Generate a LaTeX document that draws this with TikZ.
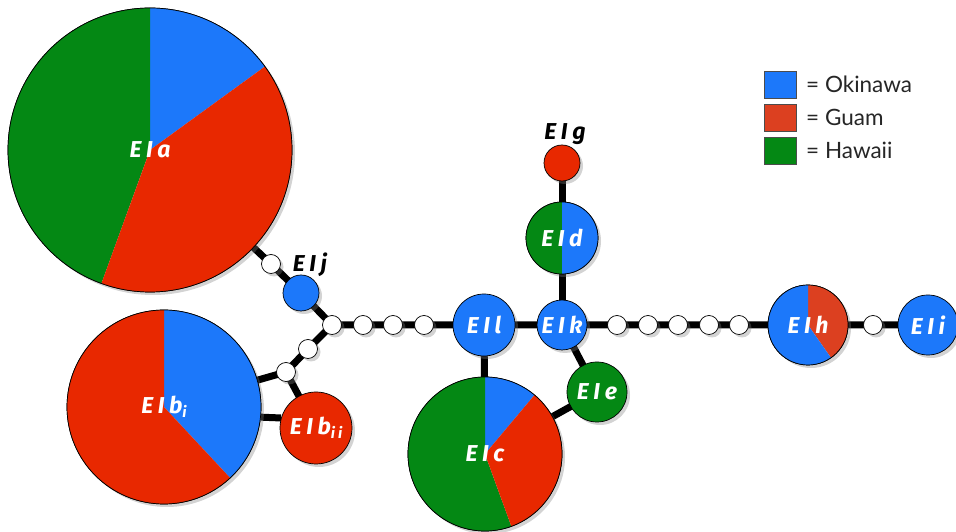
\documentclass[tikz,border=0pt]{standalone}
\usepackage{fontspec}
\setmainfont{Lato}
\newfontfamily\labfont[LetterSpace=20]{Fira Sans}
\usetikzlibrary{shadows,backgrounds}
\definecolor{okb}{RGB}{28,120,250}
\definecolor{gur}{RGB}{232,40,0}
\definecolor{gul}{RGB}{220,64,32}
\definecolor{haw}{RGB}{4,136,20}
\tikzset{
 link/.style={line width=7pt, black},
 hap/.style={circle, draw=black, line width=0.7pt, fill=white, inner sep=0pt,
   drop shadow={shadow xshift=3pt, shadow yshift=-3pt, opacity=0.35}},
 wdot/.style={hap, minimum size=19pt},
 lab/.style={text=white, font=\labfont\fontsize{23}{23}\selectfont\bfseries\itshape, inner sep=0pt},
 blab/.style={lab, text=black},
 key/.style={draw=black!70, line width=0.7pt, minimum width=32pt, minimum height=27pt, inner sep=0pt},
 keytext/.style={anchor=west, font=\fontsize{22.5}{22.5}\selectfont, text=black!85, inner sep=0pt}
}
\newcommand\subl[1]{\raisebox{-0.35ex}{\fontsize{15}{15}\selectfont #1}}
\newcommand\pienode[6]{%
 \node[hap, minimum size={2*#4pt}] (#1) at (#2,#3) {};
 \foreach \a/\b/\c in {#6} {\fill[\c] (#1.center) -- ++(\a:#4) arc[start angle=\a, end angle=\b, radius=#4] -- cycle;}
 \draw[black, line width=0.7pt] (#1.center) circle[radius=#4];
 \node[lab] (#1-t) at (#1.center) {#5};
}
\begin{document}
\begin{tikzpicture}[x=1pt,y=1pt]
\useasboundingbox (0,0) rectangle (956,532);
% pie nodes
\pienode{EIa}{150}{382}{142}{EIa}{36/90/okb, 90/250/haw, -110/36/gur}
\pienode{EIbi}{164}{125}{97}{EIb\subl{i}}{-47/90/okb, 90/313/gur}
\pienode{EIc}{485}{78}{77}{EIc}{50/90/okb, 90/290/haw, -70/50/gur}
\pienode{EIh}{808}{207}{40}{EIh}{-55/90/gul, 90/305/okb}
\pienode{EId}{562}{294}{36}{EId}{90/270/haw, -90/90/okb}
% single-colour nodes
\node[hap, fill=okb, minimum size=36pt] (EIj) at (301,239) {};
\node[blab] (EIj-t) at (310,267) {EIj};
\node[hap, fill=gur, minimum size=36pt] (EIg) at (562,369) {};
\node[blab] (EIg-t) at (565,398) {EIg};
\node[hap, fill=okb, minimum size=62pt, lab] (EIl) at (484,207) {EIl};
\node[hap, fill=okb, minimum size=50pt, lab] (EIk) at (562,207) {EIk};
\node[hap, fill=okb, minimum size=60pt, lab] (EIi) at (928,207) {EIi};
\node[hap, fill=haw, minimum size=60pt, lab] (EIe) at (597,140) {EIe};
\node[hap, fill=gur, minimum size=72pt, lab] (EIbii) at (316,104) {EIb\subl{ii}};
% white intermediate nodes
\node[wdot] (wA) at (271,268) {};
\node[wdot] (J) at (332,207) {};
\node[wdot] (w1) at (363,207) {};
\node[wdot] (w2) at (393,207) {};
\node[wdot] (w3) at (424,207) {};
\node[wdot] (w4) at (617,207) {};
\node[wdot] (w5) at (648,207) {};
\node[wdot] (w6) at (678,207) {};
\node[wdot] (w7) at (709,207) {};
\node[wdot] (w8) at (739,207) {};
\node[wdot] (w9) at (873,207) {};
\node[wdot] (wB) at (308,183) {};
\node[wdot] (wC) at (286,160) {};
% links
\begin{scope}[on background layer]
\draw[link] (EIa.center) -- (wA.center) -- (EIj.center) -- (J.center) -- (w1.center) -- (w2.center) -- (w3.center) -- (EIl.center) -- (EIk.center) -- (w4.center) -- (w5.center) -- (w6.center) -- (w7.center) -- (w8.center) -- (EIh.center) -- (w9.center) -- (EIi.center);
\draw[link] (EIk.center) -- (EId.center) -- (EIg.center);
\draw[link] (EIk.center) -- (EIe.center) -- (EIc.center);
\draw[link] (EIl.center) -- (EIc.center);
\draw[link] (J.center) -- (wB.center) -- (wC.center) -- (EIbi.center);
\draw[link] (wC.center) -- (EIbii.center);
\draw[link] (EIbi.-6.5) -- (EIbii.164);
\end{scope}
% legend
\node[key, fill=okb] (kO) at (780,447.5) {};
\node[key, fill=gul] (kG) at (780,414.5) {};
\node[key, fill=haw] (kH) at (780,381.5) {};
\node[keytext] (tO) at (806,447.5) {= Okinawa};
\node[keytext] (tG) at (806,414.5) {= Guam};
\node[keytext] (tH) at (806,381.5) {= Hawaii};
\end{tikzpicture}
\end{document}
